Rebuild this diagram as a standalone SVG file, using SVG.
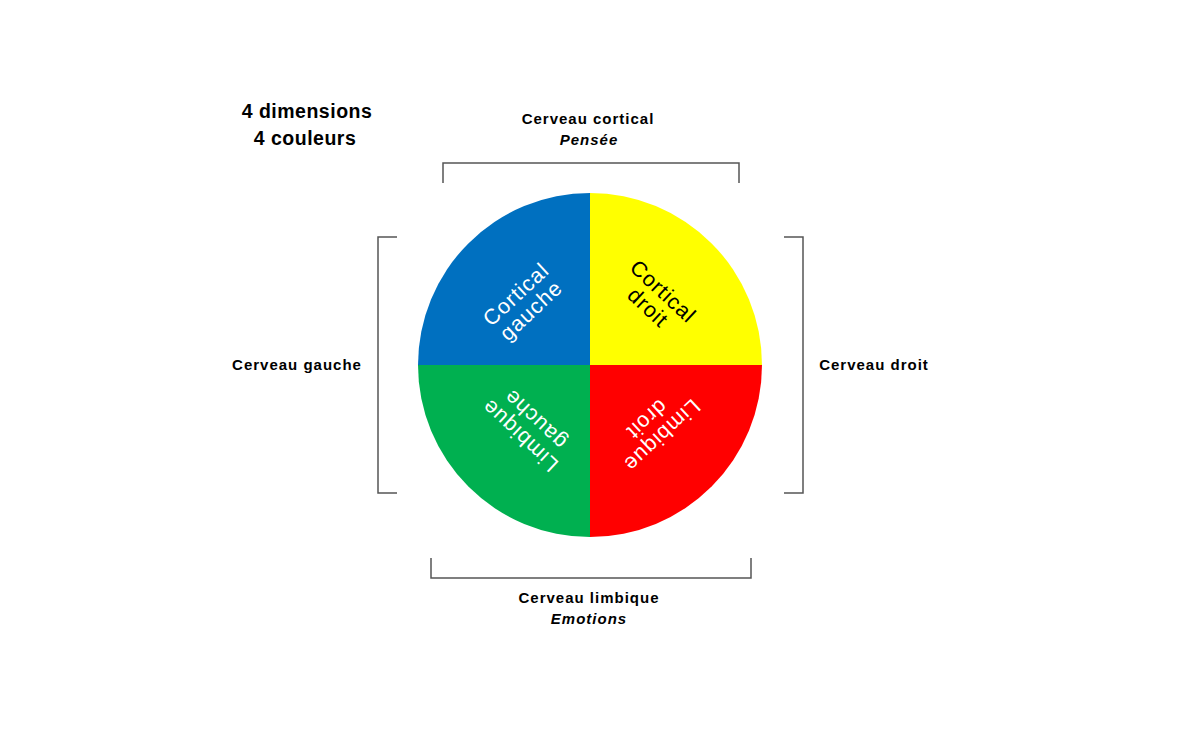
<svg xmlns="http://www.w3.org/2000/svg" width="1200" height="750" viewBox="0 0 1200 750">
<style>
.lbl{font-family:"Liberation Sans",Arial,sans-serif;font-size:15px;font-weight:bold;letter-spacing:1px;fill:#000;text-anchor:middle}
.it{font-family:"Liberation Sans",Arial,sans-serif;font-size:15px;font-style:italic;font-weight:bold;letter-spacing:1px;fill:#000;text-anchor:middle}
.title{font-family:"Liberation Sans",Arial,sans-serif;font-size:19.5px;font-weight:bold;letter-spacing:0.5px;fill:#000;text-anchor:middle}
.q{font-family:"Liberation Sans",Arial,sans-serif;font-size:21.5px;letter-spacing:1px;text-anchor:middle}
.br{fill:none;stroke:#555;stroke-width:1.5}
</style>
<rect width="1200" height="750" fill="#fff"/>
<g id="title">
<text class="title" x="307" y="118">4 dimensions</text>
<text class="title" x="305" y="145">4 couleurs</text>
</g>
<g id="pie">
<g id="cortical-gauche">
<path d="M590,365 L418,365 A172,172 0 0 1 590,193 Z" fill="#0070C0"/>
<g transform="translate(524,303) rotate(-43)">
<text class="q" x="0" y="-4.5" fill="#fff">Cortical</text>
<text class="q" x="0" y="17.5" fill="#fff">gauche</text>
</g>
</g>
<g id="cortical-droit">
<path d="M590,365 L590,193 A172,172 0 0 1 762,365 Z" fill="#FFFF00"/>
<g transform="translate(655,300) rotate(43)">
<text class="q" x="0" y="-4.5" fill="#000">Cortical</text>
<text class="q" x="0" y="17.5" fill="#000">droit</text>
</g>
</g>
<g id="limbique-droit">
<path d="M590,365 L762,365 A172,172 0 0 1 590,537 Z" fill="#FF0000"/>
<g transform="translate(654,427) rotate(137)">
<text class="q" x="0" y="-4.5" fill="#fff">Limbique</text>
<text class="q" x="0" y="17.5" fill="#fff">droit</text>
</g>
</g>
<g id="limbique-gauche">
<path d="M590,365 L590,537 A172,172 0 0 1 418,365 Z" fill="#00B050"/>
<g transform="translate(528,427) rotate(-137)">
<text class="q" x="0" y="-4.5" fill="#fff">Limbique</text>
<text class="q" x="0" y="17.5" fill="#fff">gauche</text>
</g>
</g>
</g>
<g id="connectors">
<path class="br" d="M443,183 V163 H739 V183"/>
<path class="br" d="M397,237 H378 V493 H397"/>
<path class="br" d="M784,237 H803 V493 H784"/>
<path class="br" d="M431,558 V578 H751 V558"/>
</g>
<g id="cortical">
<text class="lbl" x="588" y="124">Cerveau cortical</text>
<text class="it" x="589" y="145">Pensée</text>
</g>
<g id="gauche">
<text class="lbl" x="297" y="370">Cerveau gauche</text>
</g>
<g id="droit">
<text class="lbl" x="874" y="370">Cerveau droit</text>
</g>
<g id="limbique">
<text class="lbl" x="589" y="603">Cerveau limbique</text>
<text class="it" x="589" y="624">Emotions</text>
</g>
</svg>
